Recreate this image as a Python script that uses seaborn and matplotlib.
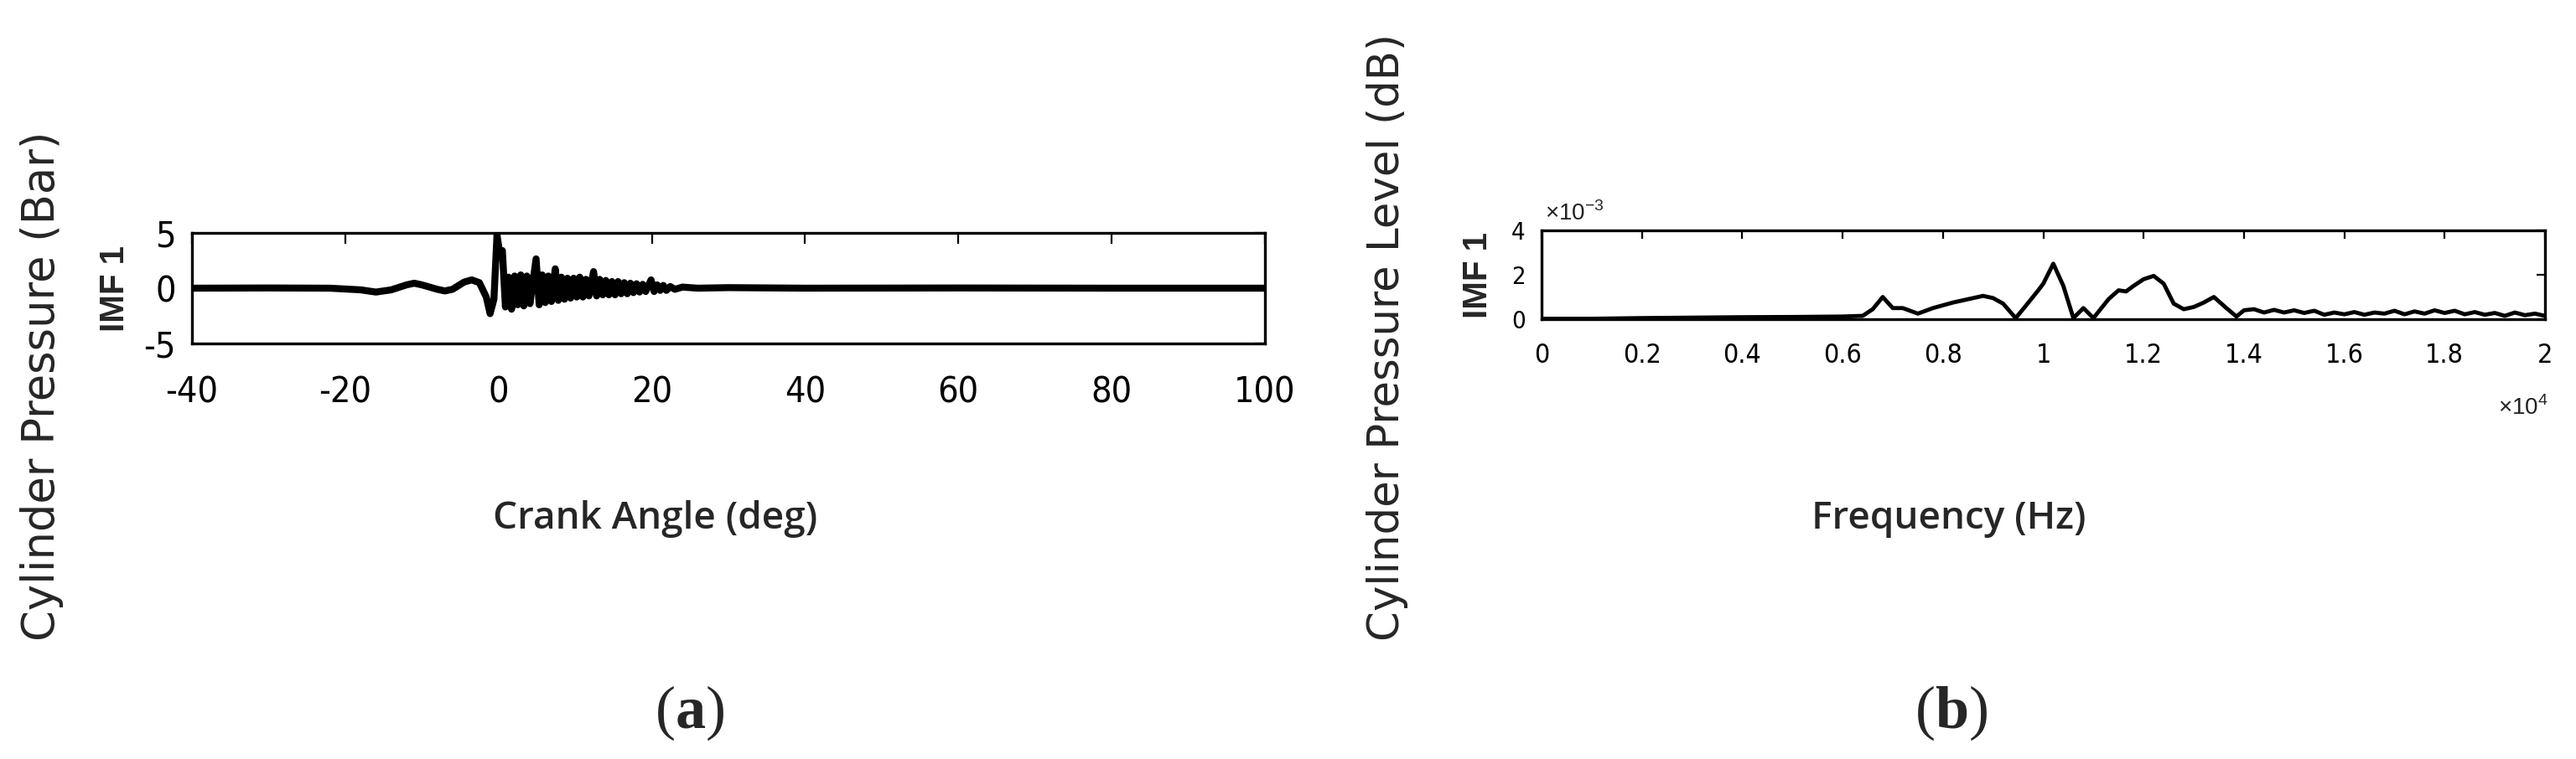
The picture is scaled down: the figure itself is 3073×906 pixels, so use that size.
import matplotlib
matplotlib.use("Agg")
import pandas as pd
import seaborn as sns
import matplotlib.pyplot as plt

# (a) IMF 1 of cylinder pressure vs crank angle
crank_angle = [-40, -30, -22, -18, -16, -14, -12, -11, -10, -8, -7, -6, -4.5, -3.5, -2.5,
               -1.6, -1.1, -0.6, -0.2, 0.2,
               0.5, 0.9, 1.3, 1.7, 2.1, 2.5, 2.9, 3.3, 3.7, 4.1, 4.9, 5.3, 5.7, 6.1, 6.5,
               6.9, 7.4, 7.8, 8.2, 8.6, 9.0, 9.4, 9.8, 10.2, 10.6, 11.0, 11.4, 11.8, 12.4,
               12.8, 13.2, 13.6, 14.0, 14.4, 14.8, 15.2, 15.6, 16.0, 16.4, 16.8, 17.2, 17.6,
               18.0, 18.4, 18.8, 19.2, 19.9, 20.3, 20.7, 21.1, 21.5, 21.9, 22.4, 23, 24, 26,
               30, 40, 60, 80, 100]
imf1_pressure = [0.0, 0.02, 0.0, -0.15, -0.35, -0.15, 0.3, 0.45, 0.3, -0.1, -0.25, -0.1, 0.55, 0.75, 0.5,
                 -0.8, -2.3, -1.0, 4.8, 3.0,
                 3.4, -1.7, 1.0, -1.9, 1.1, -1.5, 1.2, -1.6, 1.1, -1.4, 2.65, -1.5, 1.2, -1.3, 1.1,
                 -1.2, 1.75, -1.1, 1.0, -1.0, 0.9, -0.9, 0.9, -0.8, 1.0, -0.8, 0.8, -0.7, 1.5,
                 -0.7, 0.8, -0.6, 0.7, -0.6, 0.6, -0.6, 0.6, -0.5, 0.5, -0.5, 0.45, -0.4,
                 0.4, -0.35, 0.35, -0.3, 0.75, -0.3, 0.3, -0.2, 0.25, -0.2, 0.15, -0.1, 0.1, 0.0,
                 0.05, 0.0, 0.02, 0.0, 0.0]

# (b) IMF 1 spectrum (values in units of 1e-3)
freq_hz = [0, 1000, 2000, 3000, 4000, 5000, 6000, 6400, 6600, 6800, 7000, 7200, 7500, 7800,
           8200, 8600, 8800, 9000, 9200, 9450, 9650, 9900, 10000, 10200, 10400, 10600, 10800,
           11000, 11300, 11500, 11650, 11800, 12000, 12200, 12400, 12600, 12800, 13000, 13200,
           13400, 13650, 13850, 14000, 14200, 14400, 14600, 14800, 15000, 15200, 15400, 15600,
           15800, 16000, 16200, 16400, 16600, 16800, 17000, 17200, 17400, 17600, 17800, 18000,
           18200, 18400, 18600, 18800, 19000, 19200, 19400, 19600, 19800, 20000]
imf1_level = [0.02, 0.02, 0.05, 0.07, 0.09, 0.1, 0.12, 0.15, 0.45, 1.0, 0.5, 0.5, 0.25, 0.5,
              0.75, 0.95, 1.05, 0.95, 0.7, 0.05, 0.6, 1.3, 1.6, 2.5, 1.5, 0.05, 0.5,
              0.05, 0.9, 1.3, 1.25, 1.5, 1.8, 1.95, 1.6, 0.7, 0.45, 0.55, 0.75,
              1.0, 0.5, 0.12, 0.4, 0.45, 0.3, 0.42, 0.3, 0.4, 0.28, 0.38, 0.2,
              0.3, 0.22, 0.32, 0.2, 0.3, 0.25, 0.38, 0.22, 0.35, 0.25, 0.4, 0.28,
              0.38, 0.22, 0.32, 0.2, 0.28, 0.15, 0.3, 0.18, 0.25, 0.15]

a_xticks = [-40, -20, 0, 20, 40, 60, 80, 100]
a_yticks = [-5, 0, 5]
b_xticks = [0, 2000, 4000, 6000, 8000, 10000, 12000, 14000, 16000, 18000, 20000]
b_yticks = [0, 2, 4]

W, H = 3073, 906

sns.set_theme(style="white")
plt.rcParams["font.family"] = ["DejaVu Sans"]
plt.rcParams["mathtext.fontset"] = "custom"
plt.rcParams["mathtext.rm"] = "Liberation Sans"
plt.rcParams["mathtext.bf"] = "Liberation Serif:bold"

# narrow-looking tick digits
tick_kw = dict(fontfamily=["DejaVu Sans"], fontstretch="condensed")


def box(l, t, r, b):
    return [l / W, 1 - b / H, (r - l) / W, (b - t) / H]


def fx(px):
    return px / W


def fy(py):
    return 1 - py / H


fig = plt.figure(figsize=(W / 100, H / 100), dpi=100)
ax_a = fig.add_axes(box(229, 278, 1509, 410))
ax_b = fig.add_axes(box(1839, 275, 3036, 381))

df_a = pd.DataFrame({"angle": crank_angle, "imf1": imf1_pressure})
df_b = pd.DataFrame({"freq": freq_hz, "level": imf1_level})

sns.lineplot(data=df_a, x="angle", y="imf1", ax=ax_a, color="black", linewidth=6)
sns.lineplot(data=df_b, x="freq", y="level", ax=ax_b, color="black", linewidth=3.5)

ax_a.set_xlim(-40, 100)
ax_a.set_ylim(-5, 5)
ax_b.set_xlim(0, 20000)
ax_b.set_ylim(0, 4)

ax_a.set_xticks(a_xticks, labels=[f"{t:g}" for t in a_xticks], fontsize=31, **tick_kw)
ax_a.set_yticks(a_yticks, labels=[f"{t:g}" for t in a_yticks], fontsize=31, **tick_kw)
ax_b.set_xticks(b_xticks, labels=[f"{t / 1e4:g}" for t in b_xticks], fontsize=23, **tick_kw)
ax_b.set_yticks(b_yticks, labels=[f"{t:g}" for t in b_yticks], fontsize=21, **tick_kw)

for ax in (ax_a, ax_b):
    ax.set_xlabel("")
    ax.set_ylabel("")
    for s in ax.spines.values():
        s.set_visible(True)
        s.set_color("black")
        s.set_linewidth(2.4)
    ax.tick_params(direction="in", top=True, right=True, color="black", width=1.6,
                   labelcolor="black")

ax_a.tick_params(length=9)
ax_a.tick_params(axis="x", pad=27)
ax_a.tick_params(axis="y", pad=14)
ax_b.tick_params(length=7)
ax_b.tick_params(axis="x", pad=20)
ax_b.tick_params(axis="y", pad=14)

# axis titles
fig.text(fx(50), fy(765), "Cylinder Pressure (Bar)", rotation=90, ha="center", va="bottom", fontsize=38)
fig.text(fx(1655), fy(765), "Cylinder Pressure Level (dB)", rotation=90, ha="center", va="bottom", fontsize=37)
fig.text(fx(137), fy(344), "IMF 1", rotation=90, ha="center", va="center", fontsize=29,
         weight="bold", family=["Liberation Sans"])
fig.text(fx(1763), fy(329), "IMF 1", rotation=90, ha="center", va="center", fontsize=29,
         weight="bold", family=["Liberation Sans"])
fig.text(fx(588), fy(620), "Crank Angle (deg)", ha="left", va="center", fontsize=33,
         family=["Open Sans"], weight="semibold")
fig.text(fx(2325), fy(620), "Frequency (Hz)", ha="center", va="center", fontsize=33,
         family=["Open Sans"], weight="semibold")

# scale multipliers
fig.text(fx(1843), fy(255), r"$\times10^{-3}$", ha="left", va="center", fontsize=20, color="#222222")
fig.text(fx(3040), fy(487), r"$\times10^{4}$", ha="right", va="center", fontsize=20, color="#222222")

# panel tags
fig.text(fx(823), fy(851), r"($\mathbf{a}$)", ha="center", va="center", fontsize=52,
         family=["Liberation Serif"])
fig.text(fx(2328), fy(851), r"($\mathbf{b}$)", ha="center", va="center", fontsize=52,
         family=["Liberation Serif"])

fig.savefig("out.png", dpi=100, facecolor="white")
